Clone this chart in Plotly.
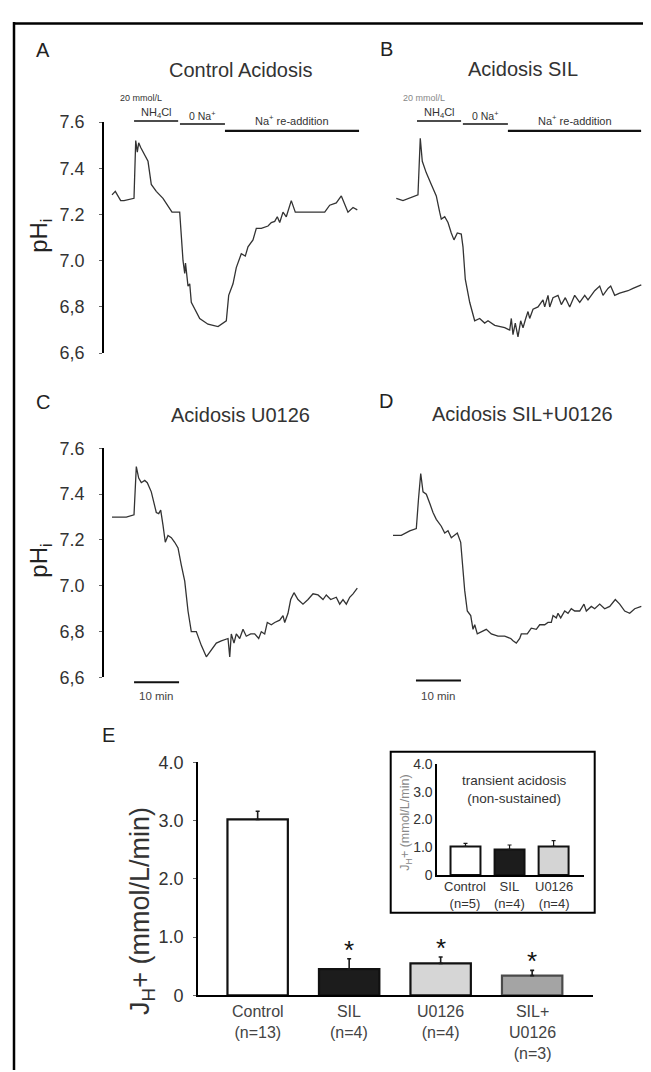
import plotly.graph_objects as go

W, H = 651, 1072
FONT = "Arial, 'Liberation Sans', Helvetica, sans-serif"
INK = "#1a1a1a"
TXT = "#333333"
LINE = "#333333"

# ---------------- data: pHi traces (time in min, pHi) ----------------
tA = [0, 0.73, 1.93, 2.67, 4.89, 5.04, 5.27, 5.62, 5.93, 6.38, 7.27, 8.0, 8.73, 9.84, 11.33,
      12.44, 13.33, 15.04, 15.4, 15.78, 16.16, 16.33, 16.89, 17.27, 17.62, 18.38, 19.49, 21.33,
      23.56, 25.4, 25.93, 26.89, 27.62, 28.73, 29.62, 30.22, 31.33, 32.07, 33.18, 34.67, 35.4,
      36.16, 36.73, 37.27, 38.0, 38.73, 39.84, 40.73, 42.07, 47.27, 48.38, 49.84, 50.96, 52.44,
      53.56, 54.51]
pHA = [7.285, 7.30, 7.26, 7.26, 7.27, 7.34, 7.52, 7.47, 7.51, 7.49, 7.46, 7.43, 7.33, 7.30, 7.27,
       7.235, 7.21, 7.21, 7.09, 7.00, 6.945, 6.99, 6.89, 6.90, 6.82, 6.79, 6.75, 6.725,
       6.715, 6.74, 6.85, 6.90, 6.97, 7.03, 7.02, 7.06, 7.09, 7.14, 7.14, 7.15, 7.165,
       7.17, 7.19, 7.165, 7.21, 7.19, 7.26, 7.21, 7.21, 7.21, 7.24, 7.25, 7.28, 7.21,
       7.23, 7.22]

tB = [0, 1.49, 4.82, 5.16, 5.33, 5.78, 6.67, 7.78, 8.89, 9.64, 10.0, 10.76, 11.49, 12.22, 12.82,
      13.56, 14.44, 14.82, 15.33, 16.31, 17.42, 18.53, 19.64, 20.38, 21.87, 24.09, 25.2, 25.56,
      25.93, 26.44, 27.04, 27.64, 28.16, 28.76, 29.27, 29.64, 30.38, 31.49, 32.6, 32.98, 33.71,
      34.09, 34.82, 35.93, 36.67, 37.56, 38.53, 39.64, 40.76, 41.87, 42.6, 44.09, 45.2, 45.93,
      47.04, 47.64, 48.53, 49.64, 51.49, 52.6, 54.44]
pHB = [7.27, 7.26, 7.285, 7.41, 7.53, 7.43, 7.38, 7.33, 7.28, 7.21, 7.18, 7.19, 7.165, 7.12, 7.09,
       7.12, 7.115, 7.06, 6.92, 6.82, 6.74, 6.75, 6.73, 6.74, 6.72, 6.71, 6.70, 6.75,
       6.68, 6.73, 6.67, 6.74, 6.71, 6.75, 6.78, 6.75, 6.79, 6.80, 6.83, 6.80, 6.85,
       6.80, 6.84, 6.85, 6.81, 6.84, 6.80, 6.85, 6.82, 6.85, 6.83, 6.87, 6.89, 6.85,
       6.88, 6.89, 6.85, 6.86, 6.87, 6.88, 6.895]

tC = [0, 3.18, 4.89, 5.11, 5.4, 5.93, 6.51, 7.27, 7.84, 8.73, 9.84, 10.38, 10.82, 11.33, 11.84,
      12.44, 13.18, 13.93, 14.67, 15.4, 16.16, 16.89, 17.62, 18.73, 19.84, 20.96, 22.07, 23.18,
      24.29, 25.78, 26.16, 26.51, 27.11, 27.62, 28.38, 29.11, 29.84, 30.82, 31.71, 32.6, 33.18,
      33.93, 34.51, 35.4, 36.16, 37.27, 38.0, 38.38, 39.11, 39.71, 40.44, 41.33, 42.44, 43.56,
      44.67, 45.78, 46.89, 47.62, 48.6, 49.84, 50.6, 51.33, 52.07, 52.82, 53.56, 54.51]
pHC = [7.30, 7.30, 7.31, 7.42, 7.52, 7.47, 7.45, 7.46, 7.45, 7.41, 7.32, 7.315, 7.33, 7.265, 7.19,
       7.22, 7.21, 7.19, 7.165, 7.09, 7.02, 6.89, 6.80, 6.80, 6.74, 6.69, 6.72, 6.75,
       6.76, 6.77, 6.69, 6.79, 6.75, 6.79, 6.77, 6.81, 6.78, 6.79, 6.79, 6.77, 6.80,
       6.79, 6.84, 6.83, 6.84, 6.85, 6.87, 6.84, 6.88, 6.94, 6.97, 6.94, 6.92, 6.94,
       6.965, 6.96, 6.94, 6.96, 6.94, 6.95, 6.92, 6.94, 6.92, 6.95, 6.965, 6.99]

tD = [0, 1.84, 3.71, 5.18, 5.67, 6.16, 6.67, 7.4, 8.16, 8.89, 9.62, 10.73, 11.49, 12.22, 12.96,
      13.56, 14.29, 15.04, 15.4, 15.93, 16.51, 17.27, 17.78, 18.16, 18.73, 19.62, 20.73, 21.84,
      23.33, 24.82, 26.16, 26.67, 27.4, 28.16, 28.51, 29.84, 30.73, 31.84, 32.6, 33.71, 34.44,
      35.18, 35.56, 36.29, 36.67, 37.27, 38.16, 38.89, 39.62, 40.38, 41.49, 42.44, 42.96, 44.07,
      44.82, 45.93, 47.04, 48.16, 49.4, 50.38, 51.49, 52.6, 53.71, 55.18]
pHD = [7.22, 7.22, 7.24, 7.25, 7.38, 7.49, 7.41, 7.40, 7.36, 7.32, 7.29, 7.26, 7.23, 7.24, 7.21,
       7.22, 7.23, 7.19, 7.11, 6.98, 6.89, 6.87, 6.81, 6.83, 6.79, 6.80, 6.81, 6.79,
       6.78, 6.78, 6.77, 6.76, 6.75, 6.77, 6.79, 6.79, 6.815, 6.81, 6.83, 6.83, 6.84,
       6.84, 6.87, 6.86, 6.88, 6.86, 6.89, 6.88, 6.90, 6.89, 6.89, 6.92, 6.89, 6.91,
       6.90, 6.92, 6.90, 6.91, 6.94, 6.92, 6.89, 6.88, 6.90, 6.91]

# protocol periods (min)
nh4cl_A = [4.9, 14.7]
zero_na_A = [15.1, 25.1]
readd_A = [25.1, 54.9]
nh4cl_B = [4.6, 14.4]
zero_na_B = [14.8, 24.8]
readd_B = [24.8, 54.4]
scalebar_C = [4.9, 14.9]
scalebar_D = [5.1, 15.1]

ph_ticks = [6.6, 6.8, 7.0, 7.2, 7.4, 7.6]
ph_ticktext = ["6,6", "6,8", "7.0", "7.2", "7.4", "7.6"]

# ---------------- data: JH+ bar charts ----------------
groups_E = ["Control", "SIL", "U0126", "SIL+U0126"]
labels_E = ["Control<br>(n=13)", "SIL<br>(n=4)", "U0126<br>(n=4)", "SIL+<br>U0126<br>(n=3)"]
mean_E = [3.02, 0.45, 0.55, 0.34]
sem_E = [0.14, 0.18, 0.11, 0.09]
sig_E = [False, True, True, True]

groups_I = ["Control", "SIL", "U0126"]
labels_I = ["Control<br>(n=5)", "SIL<br>(n=4)", "U0126<br>(n=4)"]
mean_I = [1.03, 0.92, 1.03]
sem_I = [0.11, 0.16, 0.21]

jh_ticks = [0, 1, 2, 3, 4]
jh_ticktext = ["0", "1.0", "2.0", "3.0", "4.0"]

fills_E = ["#ffffff", "#1c1c1c", "#d6d6d6", "#a4a4a4"]
edges_E = ["#111111", "#111111", "#111111", "#4a4a4a"]
fills_I = ["#ffffff", "#1c1c1c", "#d4d4d4"]


def fx(px):
    return px / W


def fy(py):
    return 1 - py / H


fig = go.Figure()

trace_style = dict(mode="lines", line=dict(color=LINE, width=1.3), hoverinfo="skip", showlegend=False)
fig.add_trace(go.Scatter(x=tA, y=pHA, xaxis="x", yaxis="y", **trace_style))
fig.add_trace(go.Scatter(x=tB, y=pHB, xaxis="x2", yaxis="y2", **trace_style))
fig.add_trace(go.Scatter(x=tC, y=pHC, xaxis="x3", yaxis="y3", **trace_style))
fig.add_trace(go.Scatter(x=tD, y=pHD, xaxis="x4", yaxis="y4", **trace_style))

fig.add_trace(go.Bar(
    x=groups_E, y=mean_E, xaxis="x5", yaxis="y5", width=0.66,
    marker=dict(color=fills_E, line=dict(color=edges_E, width=2.2)),
    error_y=dict(type="data", array=sem_E, arrayminus=[0] * len(sem_E), symmetric=False,
                 color=INK, thickness=1.6, width=2),
    showlegend=False, hoverinfo="skip"))

fig.add_trace(go.Bar(
    x=groups_I, y=mean_I, xaxis="x6", yaxis="y6", width=0.68,
    marker=dict(color=fills_I, line=dict(color="#111111", width=2)),
    error_y=dict(type="data", array=sem_I, arrayminus=[0] * len(sem_I), symmetric=False,
                 color=INK, thickness=1.2, width=2),
    showlegend=False, hoverinfo="skip"))

hidden_x = dict(visible=False, showgrid=False, zeroline=False, fixedrange=True)
ph_axis = dict(range=[6.6, 7.6], tickvals=ph_ticks, ticktext=ph_ticktext, showline=True,
               linecolor="#000000", linewidth=1.8, ticks="outside", ticklen=3, tickcolor="#666666",
               ticklabelstandoff=11,
               tickfont=dict(family=FONT, size=18, color=TXT), showgrid=False, zeroline=False)

fig.update_layout(
    width=W, height=H, margin=dict(l=0, r=0, t=0, b=0),
    paper_bgcolor="white", plot_bgcolor="rgba(0,0,0,0)",
    font=dict(family=FONT, color=TXT), showlegend=False, bargap=0.33,
    xaxis=dict(domain=[fx(96), fx(356)], range=[-1.78, 56.0], anchor="y", **hidden_x),
    yaxis=dict(domain=[fy(341.5), fy(106)], anchor="x", **ph_axis),
    xaxis2=dict(domain=[fx(380), fx(640)], range=[-1.84, 55.93], anchor="y2", **hidden_x),
    yaxis2=dict(domain=[fy(341.5), fy(106)], range=[6.6, 7.6], anchor="x2", visible=False),
    xaxis3=dict(domain=[fx(96), fx(356)], range=[-1.78, 56.0], anchor="y3", **hidden_x),
    yaxis3=dict(domain=[fy(672), fy(438.5)], anchor="x3", **ph_axis),
    xaxis4=dict(domain=[fx(377), fx(637)], range=[-1.78, 56.0], anchor="y4", **hidden_x),
    yaxis4=dict(domain=[fy(672), fy(438.5)], range=[6.6, 7.6], anchor="x4", visible=False),
    xaxis5=dict(domain=[fx(190), fx(585)], range=[-0.652, 3.665], anchor="y5", type="category",
                showline=True, linecolor="#000000", linewidth=1.8, showticklabels=False,
                ticks="", showgrid=False, zeroline=False),
    yaxis5=dict(domain=[fy(996), fy(758.5)], range=[0, 4], anchor="x5", tickvals=jh_ticks,
                ticktext=jh_ticktext, showline=True, linecolor="#000000", linewidth=1.8,
                ticks="outside", ticklen=3, tickcolor="#666666", ticklabelstandoff=6,
                tickfont=dict(family=FONT, size=18, color=TXT), showgrid=False, zeroline=False),
    xaxis6=dict(domain=[fx(429.3), fx(576)], range=[-0.64, 2.69], anchor="y6", type="category",
                showline=True, linecolor="#000000", linewidth=1.8, showticklabels=False,
                ticks="", showgrid=False, zeroline=False),
    yaxis6=dict(domain=[fy(873.3), fy(760)], range=[0, 4], anchor="x6", tickvals=jh_ticks,
                ticktext=jh_ticktext, showline=True, linecolor="#000000", linewidth=1.8,
                ticks="", tickfont=dict(family=FONT, size=14, color=TXT),
                showgrid=False, zeroline=False),
)

shapes = []
# outer frame (top and left edge)
shapes.append(dict(type="line", xref="paper", yref="paper", x0=fx(5), x1=1, y0=fy(5.5), y1=fy(5.5),
                   line=dict(color="#000000", width=2.5)))
shapes.append(dict(type="line", xref="paper", yref="paper", x0=fx(6), x1=fx(6), y0=fy(4), y1=0,
                   line=dict(color="#000000", width=2.5)))

# protocol bars
for xr, seg, py, w in [("x", nh4cl_A, 105, 1.6), ("x", zero_na_A, 108, 1.6), ("x", readd_A, 115, 2.2),
                       ("x2", nh4cl_B, 105, 1.6), ("x2", zero_na_B, 108, 1.6), ("x2", readd_B, 115, 2.2)]:
    shapes.append(dict(type="line", xref=xr, yref="paper", x0=seg[0], x1=seg[1], y0=fy(py), y1=fy(py),
                       line=dict(color="#111111", width=w)))
# 10-min scale bars
for xr, seg, py in [("x3", scalebar_C, 677), ("x4", scalebar_D, 675)]:
    shapes.append(dict(type="line", xref=xr, yref="paper", x0=seg[0], x1=seg[1], y0=fy(py), y1=fy(py),
                       line=dict(color="#111111", width=2)))
# inset box
shapes.append(dict(type="rect", xref="paper", yref="paper", x0=fx(382.7), x1=fx(586.7),
                   y0=fy(911.7), y1=fy(747.7), line=dict(color="#000000", width=2)))
fig.update_layout(shapes=shapes)

ann = []


def txt(x, y, s, size, color=TXT, xref="paper", angle=0, xanchor="center", xshift=0, yanchor="middle"):
    ann.append(dict(x=x if xref != "paper" else fx(x), y=fy(y), xref=xref, yref="paper", text=s,
                    showarrow=False, xanchor=xanchor, yanchor=yanchor, textangle=angle, xshift=xshift,
                    font=dict(family=FONT, size=size, color=color)))


# panel letters and titles
txt(35, 33, "A", 20, "#222222")
txt(378, 32, "B", 20, "#222222")
txt(35, 391, "C", 20, "#222222")
txt(378, 390, "D", 20, "#222222")
txt(100, 731, "E", 20, "#222222")
txt(232, 53, "Control Acidosis", 20)
txt(515, 52, "Acidosis SIL", 20)
txt(232, 405, "Acidosis U0126", 20)
txt(514, 404, "Acidosis SIL+U0126", 20)

# protocol labels
for xr, nh, zn, rd, c20 in [("x", nh4cl_A, zero_na_A, readd_A, "#333333"),
                            ("x2", nh4cl_B, zero_na_B, readd_B, "#888888")]:
    txt(sum(nh) / 2, 82, "20 mmol/L", 9, c20, xref=xr, xshift=-15)
    txt(sum(nh) / 2, 97, "NH<sub>4</sub>Cl", 11, "#333333", xref=xr)
    txt(sum(zn) / 2, 99, "0 Na<sup>+</sup>", 10.5, "#333333", xref=xr)
    txt(sum(rd) / 2, 104, "Na<sup>+</sup> re-addition", 11, "#333333", xref=xr)

# axis titles
txt(33, 222, "pH<sub>i</sub>", 24, "#222222", angle=-90)
txt(33, 553, "pH<sub>i</sub>", 24, "#222222", angle=-90)
txt(134, 910, "J<sub>H</sub>+ (mmol/L/min)", 27, "#333333", angle=-90)
txt(398, 820, "J<sub>H</sub>+ (mmol/L/min)", 12.5, "#888888", angle=-90)

# scale bar labels
txt(sum(scalebar_C) / 2, 691, "10 min", 11.5, "#444444", xref="x3")
txt(sum(scalebar_D) / 2, 691, "10 min", 11.5, "#444444", xref="x4")

# inset title
txt(506, 767, "transient acidosis<br>(non-sustained)", 13.5, yanchor="top")

# category labels (main bar chart)
for g, s in zip(groups_E, labels_E):
    txt(g, 1002, s, 16, "#444444", xref="x5", yanchor="top")
# category labels (inset)
for g, s in zip(groups_I, labels_I):
    txt(g, 875, s, 13, "#333333", xref="x6", yanchor="top")

# significance asterisks
for g, m, e, s in zip(groups_E, mean_E, sem_E, sig_E):
    if s:
        ann.append(dict(x=g, y=m + e, xref="x5", yref="y5", text="*", showarrow=False,
                        yanchor="bottom", yshift=-8, font=dict(family=FONT, size=26, color="#111111")))

fig.update_layout(annotations=ann)
fig.write_html("out.html")
